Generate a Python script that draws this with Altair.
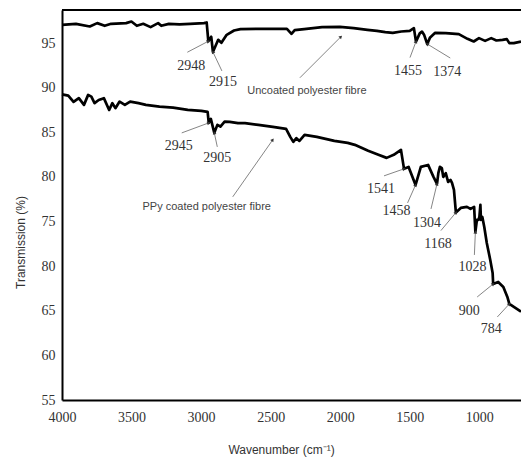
import math

import altair as alt
import pandas as pd

# Axis ranges and plot-area size
X_MIN, X_MAX = 700, 4000
Y_MIN, Y_MAX = 55, 98.7
PLOT_W, PLOT_H = 459, 390

X_TICKS = [4000, 3500, 3000, 2500, 2000, 1500, 1000]
Y_TICKS = [55, 60, 65, 70, 75, 80, 85, 90, 95]

# FTIR spectrum of the uncoated polyester fibre
UNCOATED_WN = [4000, 3900, 3800, 3747, 3693, 3647, 3539, 3501, 3462, 3416,
               3363, 3309, 3286, 3232, 3155, 3079, 2979, 2960, 2948, 2927,
               2915, 2877, 2854, 2816, 2763, 2717, 2588, 2383, 2350, 2327,
               2259, 2130, 2002, 1903, 1804, 1736, 1676, 1622, 1561, 1500,
               1470, 1455, 1428, 1412, 1396, 1374, 1355, 1317, 1241, 1147,
               1085, 1040, 1002, 958, 914, 877, 833, 802, 784, 752, 700]
UNCOATED_T = [97.04, 97.15, 96.85, 97.23, 96.93, 97.15, 97.23, 97.41, 96.93, 97.15,
              96.78, 97.23, 96.93, 97.15, 97.08, 97.15, 97.23, 97.30, 95.20, 95.70,
              94.00, 95.36, 95.02, 95.92, 96.40, 96.56, 96.59, 96.59, 96.03, 96.45,
              96.56, 96.78, 96.81, 96.67, 96.48, 96.37, 96.22, 96.14, 96.29, 96.37,
              96.67, 95.16, 96.08, 96.28, 95.89, 94.89, 95.58, 96.14, 96.10, 95.99,
              95.47, 95.17, 95.55, 95.24, 95.55, 95.28, 95.36, 95.44, 94.99, 94.99, 95.17]

# FTIR spectrum of the PPy coated polyester fibre
PPY_WN = [4000, 3955, 3917, 3879, 3842, 3812, 3789, 3766, 3736, 3699,
          3661, 3638, 3616, 3586, 3548, 3510, 3450, 3397, 3299, 3201,
          3096, 2998, 2953, 2945, 2930, 2905, 2883, 2861, 2831, 2794,
          2735, 2684, 2588, 2484, 2389, 2359, 2337, 2315, 2293, 2256,
          2168, 2042, 1946, 1895, 1799, 1725, 1666, 1615, 1563, 1541,
          1508, 1458, 1420, 1368, 1330, 1304, 1294, 1283, 1269, 1259,
          1241, 1224, 1207, 1196, 1182, 1168, 1133, 1089, 1063, 1037,
          1028, 1017, 1006, 999, 992, 988, 978, 964, 946, 921,
          904, 900, 864, 827, 798, 784, 700]
PPY_T = [89.25, 89.11, 88.40, 88.82, 88.07, 89.19, 89.00, 88.26, 88.62, 88.82,
         87.50, 88.26, 87.70, 88.44, 88.07, 88.44, 88.26, 88.07, 87.88, 87.77,
         87.50, 87.39, 87.28, 86.05, 86.50, 84.93, 85.83, 85.64, 86.20, 86.16,
         86.02, 86.02, 85.83, 85.60, 85.38, 84.48, 83.92, 84.34, 84.03, 84.71,
         84.48, 84.03, 83.81, 83.59, 82.92, 82.47, 82.13, 82.47, 83.03, 80.90,
         81.12, 79.10, 81.12, 81.34, 80.03, 79.21, 80.45, 81.12, 80.97, 80.00,
         80.41, 79.44, 79.66, 79.33, 78.54, 76.00, 76.52, 76.64, 76.41, 76.64,
         73.83, 75.18, 75.18, 75.51, 76.86, 75.18, 75.51, 74.39, 72.60, 70.69,
         69.24, 68.00, 68.23, 67.67, 66.55, 65.76, 64.90]

# Assigned absorption bands (cm-1)
UNCOATED_PEAKS = [2948, 2915, 1455, 1374]
PPY_PEAKS = [2945, 2905, 1541, 1458, 1304, 1168, 1028, 900, 784]

# Label placement per band, in screen pixels relative to the arrow tip:
# (text dx, text dy, arrow-tail dx, arrow-tail dy)
PEAK_OFFSETS = {
    ("uncoated", 2948): (-17, 25, -21, 11),
    ("uncoated", 2915): (10, 30, 9, 19),
    ("uncoated", 1455): (-8, 29, -6, 16),
    ("uncoated", 1374): (20, 28, 23, 14),
    ("ppy", 2945): (-30, 23, -27, 10),
    ("ppy", 2905): (3, 25, 3, 14),
    ("ppy", 1541): (-23, 20, -20, 7),
    ("ppy", 1458): (-19, 26, -8, 18),
    ("ppy", 1304): (-10, 39, -6, 25),
    ("ppy", 1168): (-18, 31, -15, 18),
    ("ppy", 1028): (-3, 35, -1, 23),
    ("ppy", 900): (-24, 27, -16, 13),
    ("ppy", 784): (-18, 25, -12, 13),
}

# Series names with the point each arrow indicates and label placement
SERIES_NAMES = ["Uncoated polyester fibre", "PPy coated polyester fibre"]
SERIES_TIP_WN = [1995, 2485]
SERIES_TIP_T = [95.7, 84.15]
SERIES_OFFSETS = [(-34, 54, -41, 41), (-66, 67, -40, 57)]

PX_PER_WN = PLOT_W / (X_MAX - X_MIN)
PX_PER_T = PLOT_H / (Y_MAX - Y_MIN)


def annotation(tip_wn, tip_t, offsets, label, kind):
    tdx, tdy, adx, ady = offsets
    # arrow points from tail to tip; angle measured clockwise from "up"
    angle = math.degrees(math.atan2(-adx, ady)) % 360
    return {
        "tip_x": tip_wn, "tip_y": tip_t,
        "tail_x": tip_wn - adx / PX_PER_WN, "tail_y": tip_t - ady / PX_PER_T,
        "text_x": tip_wn - tdx / PX_PER_WN, "text_y": tip_t - tdy / PX_PER_T,
        "label": label, "kind": kind, "angle": angle,
    }


lines = pd.concat([
    pd.DataFrame({"wn": UNCOATED_WN, "T": UNCOATED_T, "series": "uncoated"}),
    pd.DataFrame({"wn": PPY_WN, "T": PPY_T, "series": "ppy"}),
])

curves = {
    "uncoated": dict(zip(UNCOATED_WN, UNCOATED_T)),
    "ppy": dict(zip(PPY_WN, PPY_T)),
}
rows = []
for series, peaks in (("uncoated", UNCOATED_PEAKS), ("ppy", PPY_PEAKS)):
    for wn in peaks:
        rows.append(annotation(wn, curves[series][wn], PEAK_OFFSETS[(series, wn)],
                               str(wn), "peak"))
for name, wn, t, off in zip(SERIES_NAMES, SERIES_TIP_WN, SERIES_TIP_T, SERIES_OFFSETS):
    rows.append(annotation(wn, t, off, name, "name"))
notes = pd.DataFrame(rows)

x_scale = alt.Scale(domain=[X_MIN, X_MAX], reverse=True, nice=False, zero=False)
y_scale = alt.Scale(domain=[Y_MIN, Y_MAX], nice=False, zero=False)

x_axis = alt.Axis(
    values=X_TICKS, format="d", title="Wavenumber (cm⁻¹)", grid=False, ticks=False,
    domainColor="black", domainWidth=2, labelFont="Liberation Serif", labelFontSize=14,
    labelColor="#333333", labelPadding=10, labelFlush=False, labelOverlap=False,
    titleFont="Liberation Sans", titleFontSize=12, titleFontWeight="normal",
    titleColor="#333333", titleX=219, titleY=49, titleBaseline="middle",
)
y_axis = alt.Axis(
    values=Y_TICKS, title="Transmission (%)", grid=False, ticks=False,
    domainColor="black", domainWidth=2, labelFont="Liberation Serif", labelFontSize=14,
    labelColor="#333333", labelPadding=7, labelFlush=False, labelOverlap=False,
    labelExpr="datum.value == 70 ? '80' : datum.label",
    titleFont="Liberation Sans", titleFontSize=12, titleFontWeight="normal",
    titleColor="#333333", titleX=-42, titleY=232, titleAngle=270,
    titleBaseline="middle", titleAlign="center",
)


def xy(xfield, yfield):
    """Positional encodings sharing one scale and one axis definition."""
    return dict(
        x=alt.X(xfield, scale=x_scale, axis=x_axis),
        y=alt.Y(yfield, scale=y_scale, axis=y_axis),
    )


spectra = alt.Chart(lines).mark_line(
    color="black", strokeWidth=2.7, strokeJoin="round"
).encode(detail="series:N", **xy("wn:Q", "T:Q"))

frame_top = alt.Chart(pd.DataFrame({"y": [Y_MAX]})).mark_rule(
    color="black", strokeWidth=2
).encode(y=alt.Y("y:Q", scale=y_scale, axis=y_axis))

arrows = alt.Chart(notes).mark_rule(color="#666666", strokeWidth=0.8).encode(
    x2="tip_x:Q", y2="tip_y:Q", **xy("tail_x:Q", "tail_y:Q")
)

heads = alt.Chart(notes).mark_point(
    shape="triangle-up", filled=True, size=14, color="#333333", opacity=1
).encode(angle=alt.Angle("angle:Q", scale=None), **xy("tip_x:Q", "tip_y:Q"))

peak_labels = alt.Chart(notes).transform_filter(alt.datum.kind == "peak").mark_text(
    font="Liberation Serif", fontSize=14, color="#333333", baseline="middle"
).encode(text="label:N", **xy("text_x:Q", "text_y:Q"))

name_labels = alt.Chart(notes).transform_filter(alt.datum.kind == "name").mark_text(
    font="Liberation Sans", fontSize=11, color="#444444", baseline="middle"
).encode(text="label:N", **xy("text_x:Q", "text_y:Q"))

chart = alt.layer(
    spectra, frame_top, arrows, heads, peak_labels, name_labels
).properties(
    width=PLOT_W,
    height=PLOT_H,
    padding={"left": 62, "top": 10, "right": 0, "bottom": 57},
    autosize=alt.AutoSizeParams(type="none"),
    background="white",
).configure_view(strokeWidth=0)

chart.save("out.html", embed_options={"renderer": "svg", "actions": False})
